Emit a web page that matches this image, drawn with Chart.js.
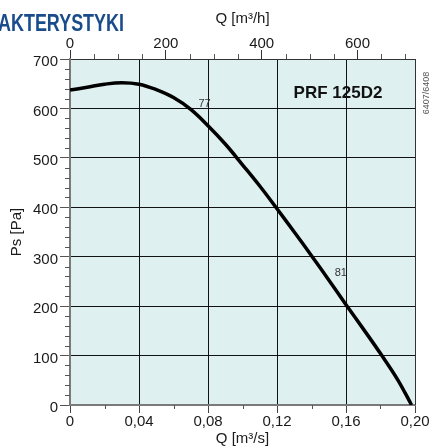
<!DOCTYPE html>
<html lang="pl">
<head>
<meta charset="UTF-8">
<title>PRF 125D2 - charakterystyka</title>
<script src="https://cdn.jsdelivr.net/npm/chart.js"></script>
<style>
  html, body { margin: 0; padding: 0; background: #fff; }
  #wrap { width: 431px; height: 446px; }
</style>
</head>
<body>
<div id="wrap"><canvas id="fanChart" width="431" height="446"></canvas></div>
<script>
// krzywa wentylatora: wydajność [m³/s] -> spręż [Pa]
const flowM3s    = [0, 0.010, 0.020, 0.030, 0.040, 0.050, 0.060, 0.070, 0.080, 0.090, 0.100, 0.110, 0.120, 0.130, 0.140, 0.150, 0.160, 0.170, 0.180, 0.190, 0.198];
const pressurePa = [637, 643, 649, 652, 649, 638, 622, 598, 565, 528, 486, 443, 397, 350, 302, 253, 203, 154, 104, 51, 0];

// podziałki osi
const flowTicks      = [0, 0.04, 0.08, 0.12, 0.16, 0.20];
const flowMinor      = [0.02, 0.06, 0.10, 0.14, 0.18];
const flowHourTicks  = [0, 200, 400, 600];
const flowHourMinor  = [50, 100, 150, 250, 300, 350, 450, 500, 550, 650, 700];
const pressureTicks  = [0, 100, 200, 300, 400, 500, 600, 700];
const pressureMinor  = [];
for (let p = 0; p < 700; p += 20) if (p % 100 !== 0) pressureMinor.push(p);

// sprawność w punktach krzywej
const effQ    = [0.078, 0.157];
const effPs   = [609, 267];
const effText = ['77', '81'];

const FONT = '"Liberation Sans", Arial, sans-serif';

const decor = {
  id: 'decor',
  beforeDraw(chart) {
    const { ctx, chartArea: a } = chart;
    ctx.save();
    ctx.fillStyle = '#dff0f0';
    ctx.fillRect(a.left, a.top, a.right - a.left, a.bottom - a.top);
    ctx.restore();
  },
  afterDraw(chart) {
    const { ctx, chartArea: a } = chart;
    const sx = chart.scales.x, sy = chart.scales.y, st = chart.scales.x2;
    ctx.save();

    // drobne kreski podziałki
    ctx.lineWidth = 1;
    ctx.strokeStyle = '#555';
    ctx.beginPath();
    pressureMinor.forEach(v => {
      const y = Math.round(sy.getPixelForValue(v)) + 0.5;
      ctx.moveTo(a.left - 5, y); ctx.lineTo(a.left, y);
    });
    flowMinor.forEach(v => {
      const x = Math.round(sx.getPixelForValue(v)) + 0.5;
      ctx.moveTo(x, a.bottom); ctx.lineTo(x, a.bottom + 4);
    });
    flowHourMinor.forEach(v => {
      const x = Math.round(st.getPixelForValue(v)) + 0.5;
      ctx.moveTo(x, a.top); ctx.lineTo(x, a.top - 5);
    });
    ctx.stroke();

    // prawa krawędź pola wykresu
    ctx.strokeStyle = '#333';
    ctx.beginPath();
    ctx.moveTo(Math.round(a.right) + 0.5, a.top);
    ctx.lineTo(Math.round(a.right) + 0.5, a.bottom);
    ctx.stroke();

    // sprawność
    ctx.fillStyle = '#333';
    ctx.font = '11px ' + FONT;
    ctx.textAlign = 'center';
    ctx.textBaseline = 'middle';
    effText.forEach((t, i) => {
      ctx.fillText(t, sx.getPixelForValue(effQ[i]), sy.getPixelForValue(effPs[i]));
    });

    // typ wentylatora
    ctx.fillStyle = '#111';
    ctx.font = 'bold 17px ' + FONT;
    ctx.fillText('PRF 125D2', a.right - 77, a.top + 34);

    // numer karty, pionowo
    ctx.save();
    ctx.translate(427, 93);
    ctx.rotate(-Math.PI / 2);
    ctx.fillStyle = '#555';
    ctx.font = '9px ' + FONT;
    ctx.fillText('6407/6408', 0, 0);
    ctx.restore();

    // nagłówek sekcji
    ctx.save();
    ctx.font = 'bold 24px ' + FONT;
    ctx.textAlign = 'left';
    ctx.textBaseline = 'alphabetic';
    const w = ctx.measureText('AKTERYSTYKI').width;
    ctx.translate(-2, 31);
    ctx.scale(126 / w, 1);
    ctx.fillStyle = '#1a4c8c';
    ctx.fillText('AKTERYSTYKI', 0, 0);
    ctx.restore();

    ctx.restore();
  }
};

const tickFont = { family: FONT, size: 15 };

new Chart(document.getElementById('fanChart'), {
  type: 'line',
  data: {
    datasets: [{
      data: flowM3s.map((q, i) => ({ x: q, y: pressurePa[i] })),
      borderColor: '#000',
      borderWidth: 3.5,
      pointRadius: 0,
      tension: 0.4,
      xAxisID: 'x',
      yAxisID: 'y'
    }]
  },
  options: {
    responsive: false,
    animation: false,
    layout: { padding: { right: 16, left: 0, top: 0, bottom: 0 } },
    plugins: { legend: { display: false }, tooltip: { enabled: false } },
    scales: {
      x: {
        type: 'linear',
        position: 'bottom',
        min: 0, max: 0.2,
        afterBuildTicks: s => { s.ticks = flowTicks.map(v => ({ value: v })); },
        afterFit: s => { s.height = 41; },
        ticks: {
          font: tickFont, color: '#1a1a1a', padding: 0, maxRotation: 0, autoSkip: false,
          callback: v => v === 0 ? '0' : v.toFixed(2).replace('.', ',')
        },
        grid: { color: '#111', lineWidth: 1, tickLength: 8, tickColor: '#444' },
        border: { color: '#7a7a7a', width: 2 },
        title: { display: true, text: 'Q [m³/s]', font: { family: FONT, size: 15, lineHeight: 1.2 }, color: '#1a1a1a', padding: { top: 0, bottom: -2 } }
      },
      x2: {
        type: 'linear',
        position: 'top',
        min: 0, max: 720,
        afterBuildTicks: s => { s.ticks = flowHourTicks.map(v => ({ value: v })); },
        afterFit: s => { s.height = 59; },
        ticks: { font: tickFont, color: '#1a1a1a', padding: -3, maxRotation: 0, autoSkip: false },
        grid: { drawOnChartArea: false, tickLength: 9, tickColor: '#333' },
        border: { color: '#333', width: 1 },
        title: { display: true, text: 'Q [m³/h]', font: { family: FONT, size: 15, lineHeight: 1.2 }, color: '#1a1a1a', padding: { top: 10, bottom: 0 } }
      },
      y: {
        type: 'linear',
        min: 0, max: 700,
        afterBuildTicks: s => { s.ticks = pressureTicks.map(v => ({ value: v })); },
        afterFit: s => { s.width = 70; },
        ticks: { font: tickFont, color: '#1a1a1a', padding: 2, labelOffset: 3 },
        grid: { color: '#111', lineWidth: 1, tickLength: 10, tickColor: '#555' },
        border: { color: '#7a7a7a', width: 2 },
        title: { display: true, text: 'Ps [Pa]', font: { family: FONT, size: 15, lineHeight: 1.2 }, color: '#1a1a1a', padding: { top: 8, bottom: 0 } }
      }
    }
  },
  plugins: [decor]
});
</script>
</body>
</html>
